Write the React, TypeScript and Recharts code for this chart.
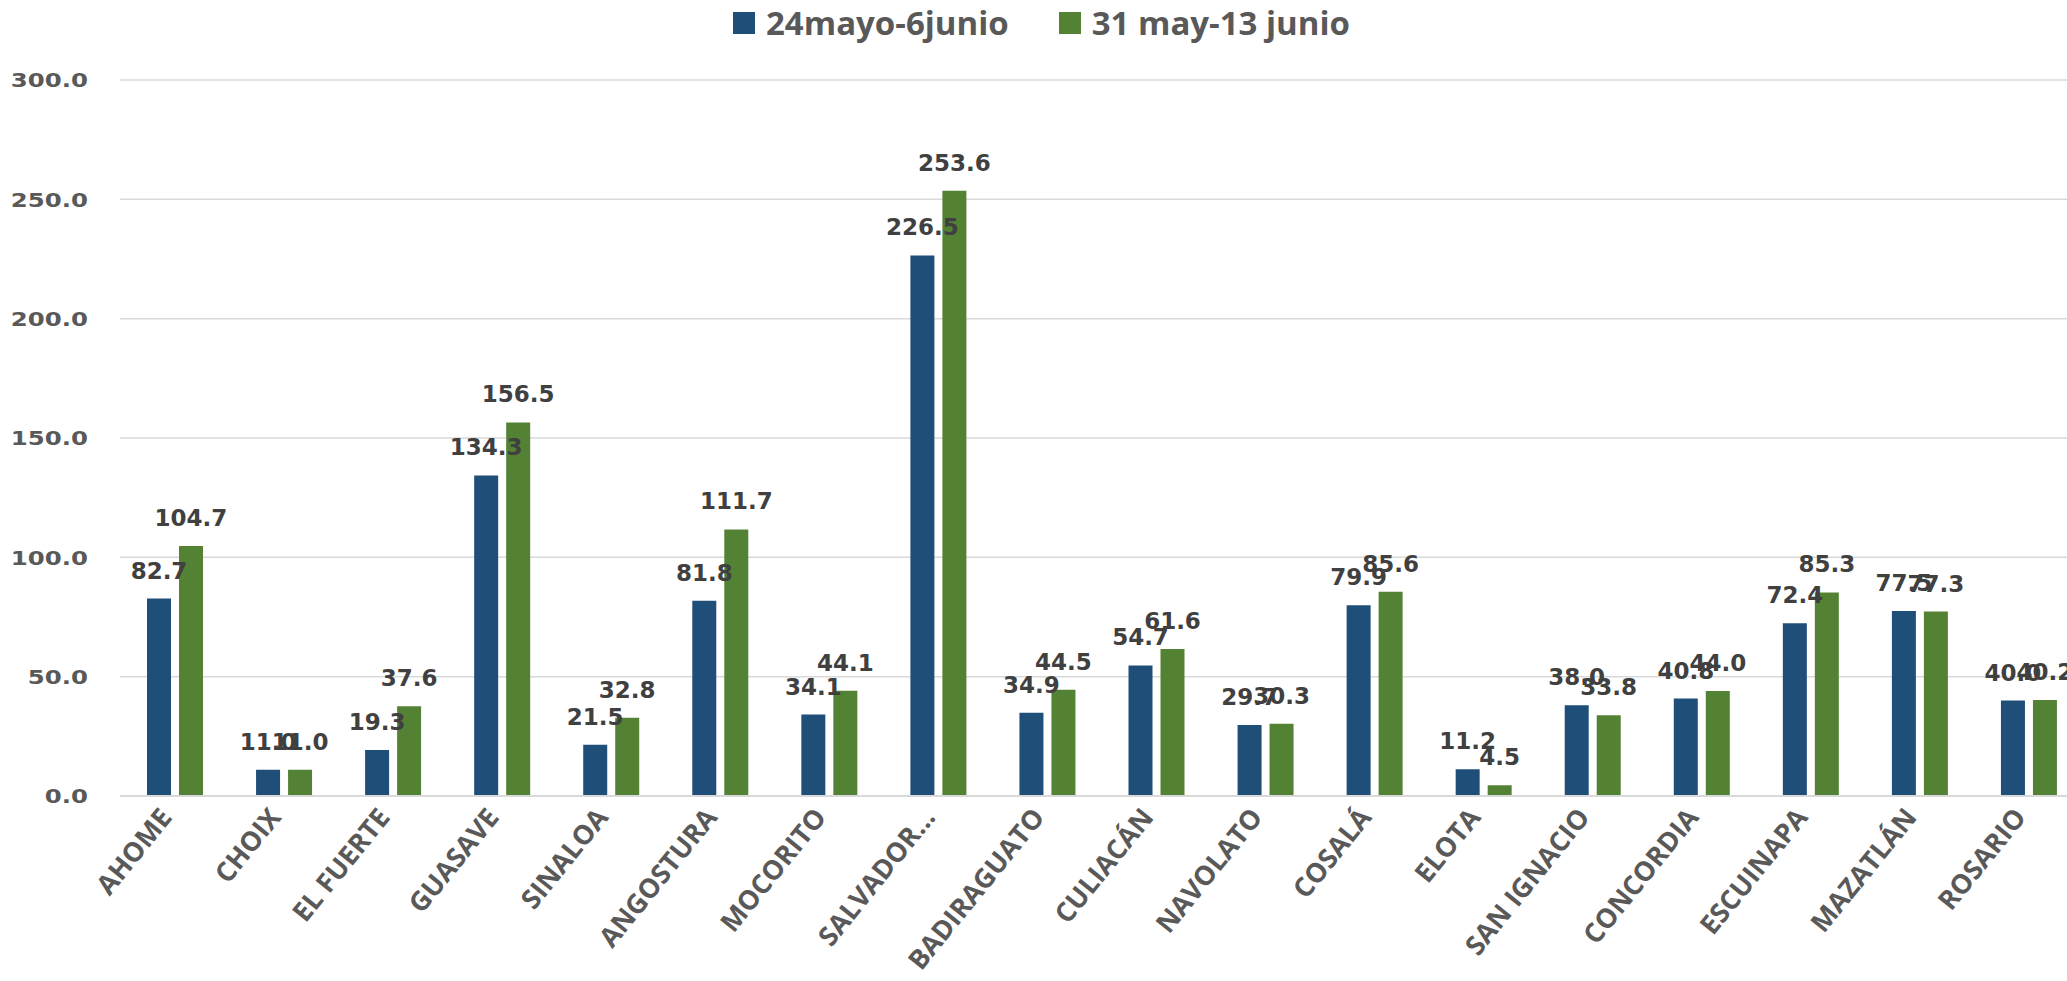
import { BarChart, Bar, XAxis, YAxis, CartesianGrid, Legend, LabelList } from "recharts";

const municipios = [
  "AHOME", "CHOIX", "EL FUERTE", "GUASAVE", "SINALOA", "ANGOSTURA", "MOCORITO",
  "SALVADOR...", "BADIRAGUATO", "CULIACÁN", "NAVOLATO", "COSALÁ", "ELOTA",
  "SAN IGNACIO", "CONCORDIA", "ESCUINAPA", "MAZATLÁN", "ROSARIO",
];
const periodo1 = [82.7, 11.0, 19.3, 134.3, 21.5, 81.8, 34.1, 226.5, 34.9, 54.7, 29.7, 79.9, 11.2, 38.0, 40.8, 72.4, 77.5, 40.0];
const periodo2 = [104.7, 11.0, 37.6, 156.5, 32.8, 111.7, 44.1, 253.6, 44.5, 61.6, 30.3, 85.6, 4.5, 33.8, 44.0, 85.3, 77.3, 40.2];
const yTicks = [0, 50, 100, 150, 200, 250, 300];

const BLUE = "#1F4E79";
const GREEN = "#548235";

const data = municipios.map((m, i) => ({ name: m, p1: periodo1[i], p2: periodo2[i] }));

const YTick = (props: any) => {
  const { x, y, payload } = props;
  return (
    <text
      transform={`translate(${x},${y}) scale(1.22,1)`}
      textAnchor="end"
      dy="0.36em"
      fill="#595959"
      fontFamily="DejaVu Sans"
      fontWeight="bold"
      fontSize={20}
    >
      {payload.value.toFixed(1)}
    </text>
  );
};

const XTick = (props: any) => {
  const { x, y, payload } = props;
  return (
    <text
      transform={`translate(${x - 16},${y + 2}) rotate(-51)`}
      textAnchor="end"
      dy="0.7em"
      fill="#595959"
      fontFamily="Open Sans"
      fontWeight="bold"
      fontSize={27}
    >
      {payload.value}
    </text>
  );
};

const LegendBox = () => (
  <div
    style={{
      display: "flex",
      justifyContent: "center",
      alignItems: "center",
      gap: 50,
      fontFamily: "Open Sans",
      fontWeight: 700,
      fontSize: 33,
      color: "#595959",
    }}
  >
    {[
      { label: "24mayo-6junio", color: BLUE },
      { label: "31 may-13 junio", color: GREEN },
    ].map((it) => (
      <div key={it.label} style={{ display: "flex", alignItems: "center", gap: 11 }}>
        <span style={{ width: 22, height: 22, background: it.color, display: "inline-block" }} />
        <span>{it.label}</span>
      </div>
    ))}
  </div>
);

export default function App() {
  return (
    <div
      style={{
        position: "fixed",
        left: 0,
        top: 0,
        width: 2067,
        height: 981,
        overflow: "hidden",
        background: "#fff",
      }}
    >
      <BarChart
        width={2083}
        height={981}
        data={data}
        margin={{ top: 10, right: 0, bottom: 35, left: 16 }}
        barGap={8}
        barSize={24}
      >
        <Legend
          verticalAlign="top"
          height={70}
          content={<LegendBox />}
          wrapperStyle={{ top: 0, left: 0, width: 2083 }}
        />
        <CartesianGrid vertical={false} stroke="#d9d9d9" strokeWidth={1.5} />
        <XAxis
          dataKey="name"
          interval={0}
          height={150}
          tick={<XTick />}
          tickLine={false}
          axisLine={{ stroke: "#d9d9d9", strokeWidth: 2 }}
        />
        <YAxis
          width={104}
          domain={[0, 300]}
          ticks={yTicks}
          tick={<YTick />}
          tickLine={false}
          axisLine={false}
          tickSize={0}
          tickMargin={32}
        />
        <Bar dataKey="p1" fill={BLUE} isAnimationActive={false}>
          <LabelList
            dataKey="p1"
            position="top"
            offset={20}
            formatter={(v: any) => Number(v).toFixed(1)}
            style={{ fill: "#404040", fontFamily: "DejaVu Sans", fontWeight: "bold", fontSize: 23 }}
          />
        </Bar>
        <Bar dataKey="p2" fill={GREEN} isAnimationActive={false}>
          <LabelList
            dataKey="p2"
            position="top"
            offset={20}
            formatter={(v: any) => Number(v).toFixed(1)}
            style={{ fill: "#404040", fontFamily: "DejaVu Sans", fontWeight: "bold", fontSize: 23 }}
          />
        </Bar>
      </BarChart>
    </div>
  );
}
